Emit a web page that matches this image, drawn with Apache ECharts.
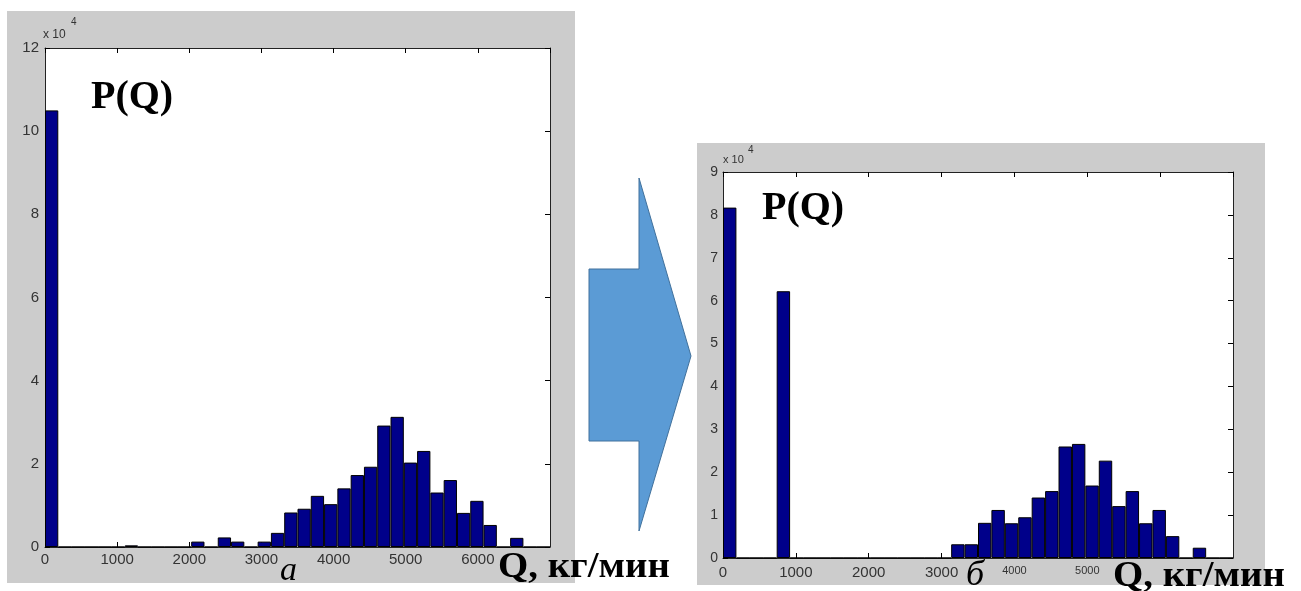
<!DOCTYPE html>
<html>
<head>
<meta charset="utf-8">
<script src="https://cdn.jsdelivr.net/npm/echarts@6/dist/echarts.min.js"></script>
<style>
html,body{margin:0;padding:0;background:#fff;}
#chart{width:1301px;height:591px;}
</style>
</head>
<body>
<div id="chart"></div>
<script>
// Histogram bins (start of each bin, kg/min)
const binStarts = [0,184,368,553,737,921,1105,1289,1474,1658,1842,2026,2211,2395,2579,2763,2947,3132,3316,3500,3684,3868,4053,4237,4421,4605,4789,4974,5158,5342,5526,5711,5895,6079,6263,6447,6632,6816];
// Counts in units of 10^4 — panel a (left)
const countsA = [10.5,0,0,0,0,0,0.04,0,0,0,0,0.13,0,0.23,0.13,0,0.13,0.34,0.83,0.92,1.23,1.03,1.41,1.73,1.93,2.92,3.13,2.03,2.31,1.31,1.61,0.82,1.11,0.53,0,0.22,0,0];
// Counts in units of 10^4 — panel б (right)
const countsB = [8.17,0,0,0,6.22,0,0,0,0,0,0,0,0,0,0,0,0,0.32,0.32,0.82,1.12,0.81,0.95,1.41,1.56,2.6,2.66,1.69,2.27,1.21,1.56,0.81,1.12,0.51,0,0.24,0,0];
// Tick labels
const xTicks = [0,1000,2000,3000,4000,5000,6000,7000];
const yTicksA = [0,2,4,6,8,10,12];
const yTicksB = [0,1,2,3,4,5,6,7,8,9];

const chart = echarts.init(document.getElementById('chart'), null, {renderer:'canvas'});
const SANS = '"Liberation Sans", Arial, sans-serif';
const SERIF = '"Liberation Serif", "Times New Roman", serif';
const barColor = '#00008a';
const tick = {show:true, inside:true, length:5, lineStyle:{color:'#000', width:1}};
const line = {show:true, onZero:false, lineStyle:{color:'#222', width:1}};

function xBottom(grid, fontSize, formatter, margin){
  return {
    type:'value', gridIndex:grid, min:xTicks[0], max:xTicks[xTicks.length-1], interval:1000,
    position:'bottom',
    axisLine:line, axisTick:tick, splitLine:{show:false},
    axisLabel:{show:true, inside:false, color:'#333', fontFamily:SANS, fontSize:fontSize, margin:margin, showMaxLabel:false,
      formatter:formatter, rich:{s:{fontSize:11, fontFamily:SANS, color:'#333'}}}
  };
}
function xTop(grid){
  return {
    type:'value', gridIndex:grid, min:xTicks[0], max:xTicks[xTicks.length-1], interval:1000,
    position:'top',
    axisLine:line, axisTick:tick, splitLine:{show:false},
    axisLabel:{show:false}
  };
}
function yLeft(grid, ticks, fontSize, margin){
  return {
    type:'value', gridIndex:grid, min:ticks[0], max:ticks[ticks.length-1], interval:ticks[1]-ticks[0],
    position:'left',
    axisLine:line, axisTick:tick, splitLine:{show:false},
    axisLabel:{show:true, inside:false, color:'#333', fontFamily:SANS, fontSize:fontSize, margin:margin}
  };
}
function yRight(grid, ticks){
  return {
    type:'value', gridIndex:grid, min:ticks[0], max:ticks[ticks.length-1], interval:ticks[1]-ticks[0],
    position:'right',
    axisLine:line, axisTick:tick, splitLine:{show:false},
    axisLabel:{show:false}
  };
}

const option = {
  animation:false,
  backgroundColor:'#ffffff',
  grid:[
    {left:45, top:48, width:505, height:499, show:true, backgroundColor:'#fff', borderWidth:0},
    {left:723, top:172, width:510, height:386, show:true, backgroundColor:'#fff', borderWidth:0}
  ],
  xAxis:[
    {type:'category', gridIndex:0, data:binStarts, show:false, boundaryGap:true},
    xBottom(0, 15, v => String(v), 5),
    xTop(0),
    {type:'category', gridIndex:1, data:binStarts, show:false, boundaryGap:true},
    xBottom(1, 15, v => (v===4000||v===5000) ? '{s|'+v+'}' : (v===6000 ? '' : String(v)), 7),
    xTop(1)
  ],
  yAxis:[
    yLeft(0, yTicksA, 15, 6),
    yRight(0, yTicksA),
    yLeft(1, yTicksB, 14, 5),
    yRight(1, yTicksB)
  ],
  series:[
    {type:'bar', xAxisIndex:0, yAxisIndex:0, data:countsA, barCategoryGap:'0%',
     itemStyle:{color:barColor, borderColor:'#000', borderWidth:1}, z:3},
    {type:'bar', xAxisIndex:3, yAxisIndex:2, data:countsB, barCategoryGap:'0%',
     itemStyle:{color:barColor, borderColor:'#000', borderWidth:1}, z:3}
  ],
  graphic:[
    {type:'rect', z:-10, shape:{x:7, y:11, width:568, height:572}, style:{fill:'#cccccc'}, silent:true},
    {type:'rect', z:-10, shape:{x:697, y:143, width:568, height:442}, style:{fill:'#cccccc'}, silent:true},
    {type:'polygon', z:5, shape:{points:[[639,178],[691,356],[639,531],[639,441],[589,441],[589,269],[639,269]]},
     style:{fill:'#5b9bd5', stroke:'#41719c', lineWidth:1}},
    // x 10^4 multipliers
    {type:'text', z:50, style:{x:43, y:41, text:'x 10', font:'12px '+SANS, fill:'#333', verticalAlign:'bottom'}},
    {type:'text', z:50, style:{x:71, y:27, text:'4', font:'10px '+SANS, fill:'#333', verticalAlign:'bottom'}},
    {type:'text', z:50, style:{x:723, y:165, text:'x 10', font:'11px '+SANS, fill:'#333', verticalAlign:'bottom'}},
    {type:'text', z:50, style:{x:748, y:155, text:'4', font:'10px '+SANS, fill:'#333', verticalAlign:'bottom'}},
    // P(Q) titles
    {type:'text', z:50, style:{x:91, y:98, text:'P(Q)', font:'bold 40px '+SERIF, fill:'#000', verticalAlign:'middle'}},
    {type:'text', z:50, style:{x:762, y:209, text:'P(Q)', font:'bold 40px '+SERIF, fill:'#000', verticalAlign:'middle'}},
    // axis titles
    {type:'text', z:50, x:498, y:568, scaleX:1.08, style:{x:0, y:0, text:'Q, кг/мин', font:'bold 36px '+SERIF, fill:'#000', verticalAlign:'middle'}},
    {type:'text', z:50, x:1113, y:577, scaleX:1.08, style:{x:0, y:0, text:'Q, кг/мин', font:'bold 36px '+SERIF, fill:'#000', verticalAlign:'middle'}},
    // panel letters
    {type:'text', z:50, style:{x:280, y:571, text:'a', font:'italic 34px '+SERIF, fill:'#000', verticalAlign:'middle'}},
    {type:'text', z:50, style:{x:966, y:576, text:'б', font:'italic 36px '+SERIF, fill:'#000', verticalAlign:'middle'}}
  ]
};
chart.setOption(option);
</script>
</body>
</html>
